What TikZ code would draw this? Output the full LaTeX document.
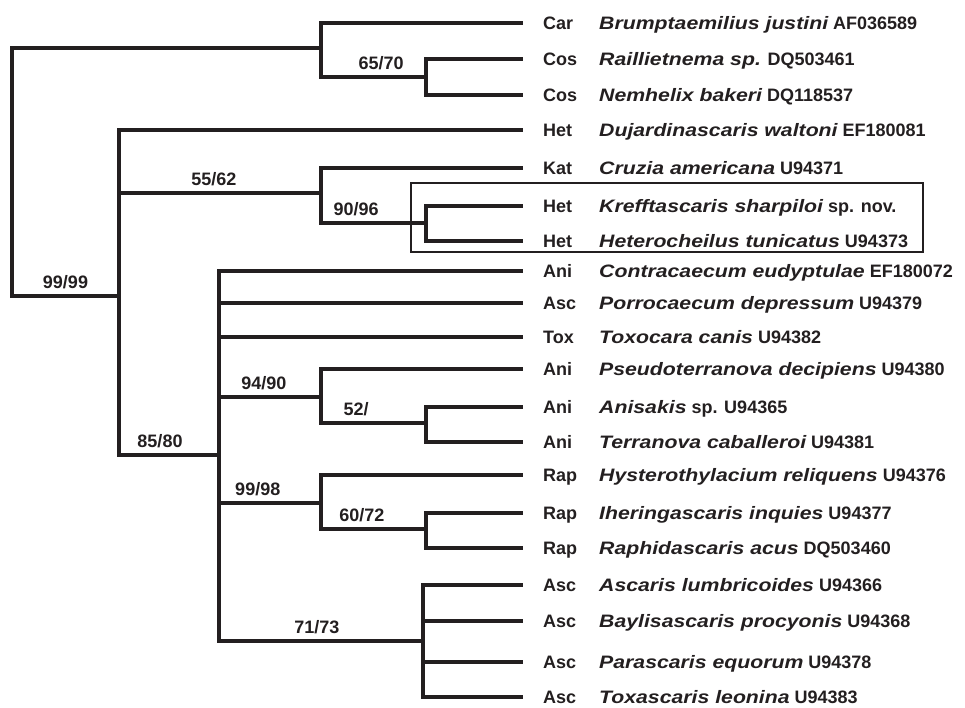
\documentclass[tikz,border=0pt]{standalone}
\usepackage{fontspec}
\setmainfont{Liberation Sans}
\newfontfamily\widefont{Liberation Sans}[FakeStretch=1.18]
\usetikzlibrary{positioning}
\definecolor{ink}{RGB}{35,31,32}
\def\leafx{521}
\def\namex{599}
\newcommand\sci[1]{{\widefont\bfseries\itshape #1}}

\begin{document}
\begin{tikzpicture}[
	x=1pt, y=-1pt,
	branch/.style={draw=ink, line width=4pt, line cap=rect},
	support/.style={font=\fontsize{18}{20}\selectfont\bfseries, text=ink, inner sep=0pt, text depth=0pt, above=6pt},
	code/.style={font=\fontsize{18}{20}\selectfont\bfseries, text=ink, inner sep=0pt, text height=13pt, text depth=0pt},
	taxon/.style={code, anchor=west},
	]
	\useasboundingbox (0,0) rectangle (965,707);
	
	% internal nodes
	\coordinate (root) at (12,296);
	\coordinate (carcos) at (321,48);
	\coordinate (cos) at (426,77);
	\coordinate (het) at (119,296);
	\coordinate (kat) at (321,193);
	\coordinate (kre) at (426,223);
	\coordinate (core) at (219,455);
	\coordinate (psd) at (321,397);
	\coordinate (ans) at (426,423);
	\coordinate (rap) at (321,503);
	\coordinate (ihr) at (426,529);
	\coordinate (asc) at (423,641);
	
	% leaves
	\foreach \i/\y/\grp/\tx in {
		1/23/Car/{\sci{Brumptaemilius justini} AF036589},
		2/59/Cos/{\sci{Raillietnema sp.} DQ503461},
		3/95/Cos/{\sci{Nemhelix bakeri} DQ118537},
		4/130/Het/{\sci{Dujardinascaris waltoni} EF180081},
		5/168/Kat/{\sci{Cruzia americana} U94371},
		6/206/Het/{\sci{Krefftascaris sharpiloi} sp. nov.},
		7/241/Het/{\sci{Heterocheilus tunicatus} U94373},
		8/271/Ani/{\sci{Contracaecum eudyptulae} EF180072},
		9/303/Asc/{\sci{Porrocaecum depressum} U94379},
		10/337/Tox/{\sci{Toxocara canis} U94382},
		11/369/Ani/{\sci{Pseudoterranova decipiens} U94380},
		12/407/Ani/{\sci{Anisakis} sp. U94365},
		13/442/Ani/{\sci{Terranova caballeroi} U94381},
		14/475/Rap/{\sci{Hysterothylacium reliquens} U94376},
		15/513/Rap/{\sci{Iheringascaris inquies} U94377},
		16/548/Rap/{\sci{Raphidascaris acus} DQ503460},
		17/585/Asc/{\sci{Ascaris lumbricoides} U94366},
		18/621/Asc/{\sci{Baylisascaris procyonis} U94368},
		19/662/Asc/{\sci{Parascaris equorum} U94378},
		20/697/Asc/{\sci{Toxascaris leonina} U94383}}{
		\coordinate (t\i) at (\leafx,\y);
		\node[code, right=22pt of t\i] (g\i) {\grp};
		\node[taxon] (s\i) at (\namex,\y) {\tx};
	}
	
	% branches
	\draw[branch] (root) |- (carcos);
	\draw[branch] (root) -- node[support] {99/99} (het);
	\draw[branch] (carcos) |- node[support, pos=0.786] {65/70} (cos);
	\draw[branch] (het) |- node[support, pos=0.735] {55/62} (kat);
	\draw[branch] (kat) |- node[support, pos=0.667] {90/96} (kre);
	\draw[branch] (het) |- node[support, pos=0.705] {85/80} (core);
	\draw[branch] (core) |- node[support, pos=0.72] {94/90} (psd);
	\draw[branch] (psd) |- node[support, pos=0.667] {52/} (ans);
	\draw[branch] (core) |- node[support, pos=0.69] {99/98} (rap);
	\draw[branch] (rap) |- node[support, pos=0.695] {60/72} (ihr);
	\draw[branch] (core) |- node[support, pos=0.74] {71/73} (asc);
	
	\foreach \p/\c in {carcos/1, cos/2, cos/3, het/4, kat/5, kre/6, kre/7,
		core/8, core/9, core/10, psd/11, ans/12, ans/13, rap/14, ihr/15, ihr/16,
		asc/17, asc/18, asc/19, asc/20}
	\draw[branch] (\p) |- (t\c);
	
	% new species box
	\draw[ink, line width=1.5pt] (411,183) rectangle (923,252);
	
\end{tikzpicture}
\end{document}
